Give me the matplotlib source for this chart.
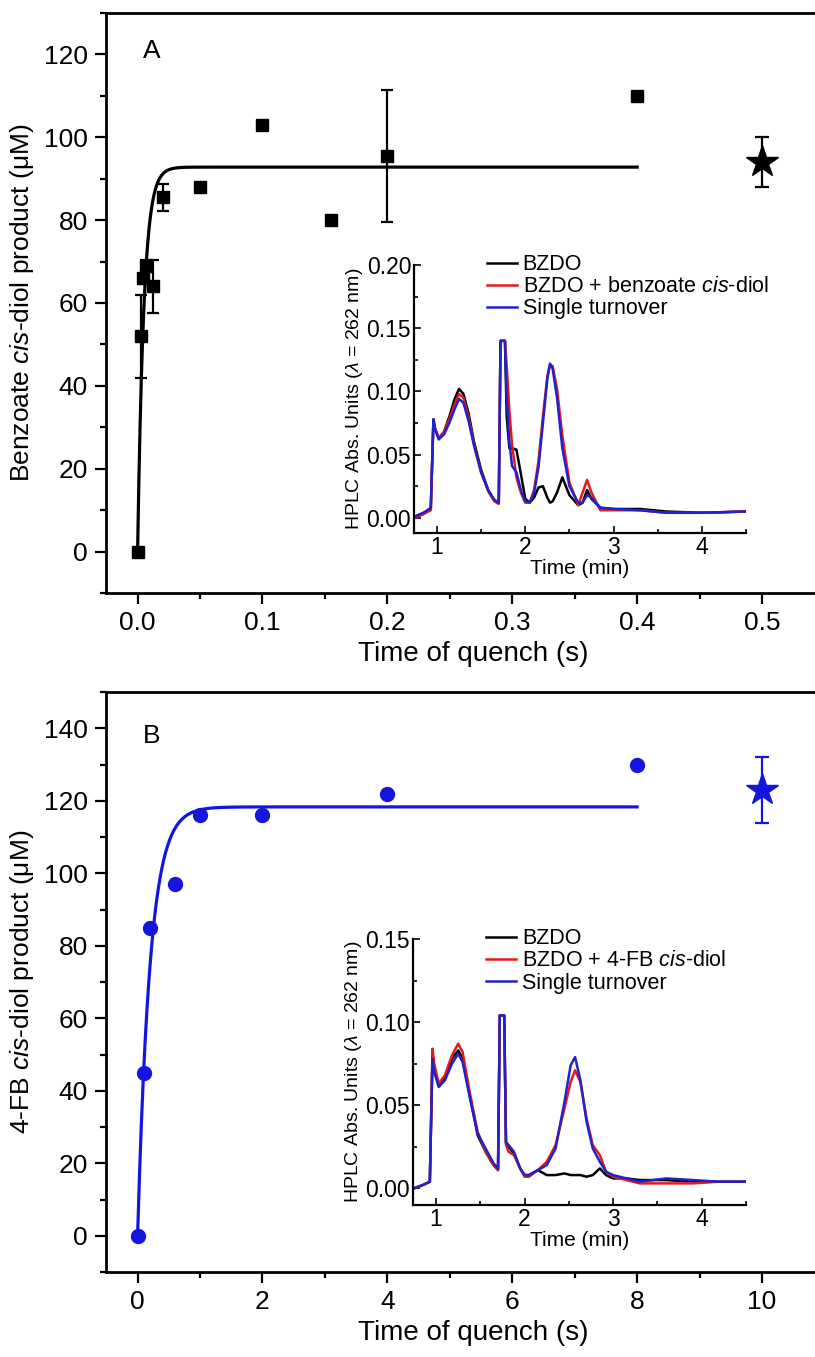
import matplotlib
matplotlib.use('Agg')
import matplotlib.pyplot as plt
import numpy as np
from matplotlib.ticker import MultipleLocator

plt.rcParams['font.family'] = ['Liberation Sans', 'DejaVu Sans']
plt.rcParams['mathtext.fontset'] = 'custom'
plt.rcParams['mathtext.rm'] = 'Liberation Sans'
plt.rcParams['mathtext.it'] = 'Liberation Sans:italic'

# ---- panel A: benzoate quench data ----
tA = [0.0, 0.0025, 0.004, 0.007, 0.012, 0.02, 0.05, 0.1, 0.155, 0.2, 0.4]
yA = [0, 52, 66, 69, 64, 85.5, 88, 103, 80, 95.5, 110]
errA = [0, 10, 0, 1.5, 6.5, 3.3, 0, 0, 0, 16, 0]
starA_t, starA_y, starA_err = 0.5, 94, 6
fitA_amp, fitA_k, fitA_end = 92.8, 200.0, 0.4

# ---- panel B: 4-FB quench data ----
tB = [0.0, 0.1, 0.2, 0.6, 1.0, 2.0, 4.0, 8.0]
yB = [0, 45, 85, 97, 116, 116, 122, 130]
starB_t, starB_y, starB_err = 10, 123, 9
fitB_amp, fitB_k, fitB_end = 118.3, 5.0, 8.0

# ---- inset A chromatograms ----
hplcA_t = [0.75, 0.85, 0.93, 0.96, 0.98, 1.02, 1.08, 1.14, 1.2, 1.25, 1.3, 1.36, 1.42, 1.5, 1.58,
           1.65, 1.70, 1.72, 1.74, 1.77, 1.79, 1.82, 1.85, 1.9, 1.95, 2.0, 2.05, 2.1, 2.15, 2.2,
           2.25, 2.28, 2.31, 2.36, 2.42, 2.5, 2.6, 2.65, 2.7, 2.75, 2.85, 3.0, 3.3, 3.6, 4.0, 4.5]
hplcA_bzdo = [0.001, 0.004, 0.007, 0.078, 0.070, 0.063, 0.068, 0.080, 0.094, 0.102, 0.098, 0.082,
              0.060, 0.038, 0.022, 0.014, 0.012, 0.140, 0.140, 0.140, 0.080, 0.055, 0.055, 0.054,
              0.035, 0.015, 0.012, 0.016, 0.024, 0.025, 0.016, 0.012, 0.013, 0.020, 0.032, 0.018,
              0.010, 0.012, 0.022, 0.015, 0.008, 0.007, 0.007, 0.005, 0.004, 0.005]
hplcA_diol = [0.000, 0.003, 0.006, 0.076, 0.070, 0.063, 0.068, 0.078, 0.090, 0.098, 0.095, 0.079,
              0.058, 0.036, 0.021, 0.013, 0.011, 0.140, 0.140, 0.140, 0.120, 0.085, 0.058, 0.032,
              0.020, 0.012, 0.012, 0.022, 0.045, 0.080, 0.112, 0.121, 0.120, 0.102, 0.065, 0.028,
              0.010, 0.020, 0.030, 0.020, 0.006, 0.006, 0.006, 0.004, 0.004, 0.005]
hplcA_single = [0.001, 0.004, 0.008, 0.078, 0.070, 0.062, 0.066, 0.075, 0.086, 0.094, 0.091, 0.076,
                0.057, 0.036, 0.022, 0.014, 0.012, 0.140, 0.140, 0.140, 0.095, 0.060, 0.041, 0.036,
                0.022, 0.013, 0.012, 0.020, 0.040, 0.075, 0.110, 0.122, 0.118, 0.095, 0.055, 0.025,
                0.012, 0.012, 0.018, 0.016, 0.008, 0.007, 0.006, 0.004, 0.004, 0.005]

# ---- inset B chromatograms ----
hplcB_t = [0.75, 0.85, 0.93, 0.96, 0.98, 1.03, 1.1, 1.18, 1.25, 1.3, 1.38, 1.47, 1.56, 1.65,
           1.70, 1.72, 1.74, 1.77, 1.79, 1.82, 1.88, 1.95, 2.0, 2.05, 2.15, 2.25, 2.35, 2.45,
           2.52, 2.57, 2.63, 2.7, 2.77, 2.85, 2.92, 3.0, 3.15, 3.3, 3.6, 3.9, 4.2, 4.5]
hplcB_bzdo = [0.000, 0.002, 0.004, 0.080, 0.072, 0.062, 0.067, 0.078, 0.083, 0.078, 0.056, 0.032,
              0.022, 0.014, 0.011, 0.104, 0.104, 0.104, 0.027, 0.025, 0.021, 0.012, 0.008, 0.008,
              0.011, 0.008, 0.008, 0.009, 0.008, 0.008, 0.008, 0.007, 0.008, 0.012, 0.008, 0.006,
              0.006, 0.005, 0.005, 0.004, 0.004, 0.004]
hplcB_diol = [0.000, 0.002, 0.004, 0.084, 0.075, 0.063, 0.068, 0.080, 0.087, 0.082, 0.058, 0.034,
              0.022, 0.014, 0.011, 0.104, 0.104, 0.104, 0.026, 0.022, 0.020, 0.012, 0.007, 0.007,
              0.011, 0.016, 0.026, 0.048, 0.064, 0.071, 0.064, 0.042, 0.026, 0.020, 0.010, 0.007,
              0.005, 0.003, 0.003, 0.003, 0.004, 0.004]
hplcB_single = [0.000, 0.002, 0.004, 0.078, 0.070, 0.061, 0.065, 0.075, 0.081, 0.076, 0.055, 0.033,
                0.024, 0.015, 0.012, 0.104, 0.104, 0.104, 0.028, 0.026, 0.022, 0.012, 0.008, 0.008,
                0.011, 0.014, 0.024, 0.052, 0.074, 0.079, 0.065, 0.040, 0.024, 0.016, 0.010, 0.008,
                0.006, 0.004, 0.006, 0.005, 0.004, 0.004]

labelsA = ['BZDO', r'BZDO + benzoate $\mathit{cis}$-diol', 'Single turnover']
labelsB = ['BZDO', r'BZDO + 4-FB $\mathit{cis}$-diol', 'Single turnover']
trace_colors = ['black', '#e31a1c', '#2222cc']
BLUE = '#1515e0'

W, H = 815, 1357
fig = plt.figure(figsize=(W / 100, H / 100), dpi=100)


def px_axes(left, top, right, bottom):
    return fig.add_axes([left / W, 1 - bottom / H, (right - left) / W, (bottom - top) / H])


def style_main(ax):
    for s in ['left', 'bottom', 'top', 'right']:
        ax.spines[s].set_linewidth(2.0)
    ax.tick_params(which='both', direction='out', width=1.6, labelsize=19, top=False, right=False)
    ax.tick_params(which='major', length=8, pad=5)
    ax.tick_params(which='minor', length=4.5)


def style_inset(ax, ytick):
    ax.spines['top'].set_visible(False)
    ax.spines['right'].set_visible(False)
    ax.spines['left'].set_linewidth(1.6)
    ax.spines['bottom'].set_linewidth(1.6)
    ax.set_facecolor('none')
    ax.set_xlim(0.74, 4.5)
    ax.xaxis.set_major_locator(MultipleLocator(1))
    ax.xaxis.set_minor_locator(MultipleLocator(0.5))
    ax.yaxis.set_major_locator(MultipleLocator(ytick))
    ax.yaxis.set_minor_locator(MultipleLocator(ytick / 2))
    ax.yaxis.set_major_formatter(lambda v, p: f'{v:.2f}')
    ax.tick_params(which='both', direction='in', width=1.2, labelsize=16.5, pad=2)
    ax.tick_params(which='major', length=5)
    ax.tick_params(which='minor', length=3)
    ax.set_xlabel('Time (min)', fontsize=15, labelpad=0)
    ax.set_ylabel(r'HPLC Abs. Units ($\mathit{\lambda}$ = 262 nm)', fontsize=14, labelpad=1)


def inset_legend(ax, handles, labels):
    ax.legend(handles, labels, loc='upper left', bbox_to_anchor=(0.22, 1.04), frameon=False,
              fontsize=15.5, handlelength=1.4, handletextpad=0.25, labelspacing=0.05,
              borderpad=0, borderaxespad=0)


# ================= panel A =================
axA = px_axes(106, 13, 840, 593)
style_main(axA)
axA.set_xlim(-0.0253, 0.5624)
axA.set_ylim(-10, 130)
axA.xaxis.set_major_locator(MultipleLocator(0.1))
axA.xaxis.set_minor_locator(MultipleLocator(0.05))
axA.yaxis.set_major_locator(MultipleLocator(20))
axA.yaxis.set_minor_locator(MultipleLocator(10))
axA.xaxis.set_major_formatter(lambda v, p: f'{v:.1f}')

t_fit = np.linspace(0, fitA_end, 800)
axA.plot(t_fit, fitA_amp * (1 - np.exp(-fitA_k * t_fit)), color='black', lw=2.3, zorder=2)
errA_arr = np.array(errA)
mask = errA_arr > 0
axA.errorbar(np.array(tA)[mask], np.array(yA)[mask], yerr=errA_arr[mask], fmt='none',
             ecolor='black', elinewidth=1.6, capsize=4, capthick=1.6, zorder=3)
axA.plot(tA, yA, 's', color='black', ms=9, zorder=4)
axA.errorbar([starA_t], [starA_y], yerr=[starA_err], fmt='*', color='black', ms=24,
             elinewidth=1.6, capsize=5, capthick=1.6, zorder=4)
axA.set_xlabel('Time of quench (s)', fontsize=20, labelpad=4)
axA.set_ylabel(r'Benzoate $\mathit{cis}$-diol product (μM)', fontsize=19, labelpad=6)
axA.text(0.05, 0.955, 'A', transform=axA.transAxes, fontsize=19, va='top', ha='left')

insA = px_axes(414, 265, 746, 533)
style_inset(insA, 0.05)
insA.set_ylim(-0.012, 0.2)
hA = []
for ys, c in zip([hplcA_bzdo, hplcA_diol, hplcA_single], trace_colors):
    line, = insA.plot(hplcA_t, ys, color=c, lw=1.8)
    hA.append(line)
inset_legend(insA, hA, labelsA)

# ================= panel B =================
axB = px_axes(106, 692, 840, 1272)
style_main(axB)
axB.set_xlim(-0.506, 11.25)
axB.set_ylim(-10, 150)
axB.xaxis.set_major_locator(MultipleLocator(2))
axB.xaxis.set_minor_locator(MultipleLocator(1))
axB.yaxis.set_major_locator(MultipleLocator(20))
axB.yaxis.set_minor_locator(MultipleLocator(10))

t_fit = np.linspace(0, fitB_end, 800)
axB.plot(t_fit, fitB_amp * (1 - np.exp(-fitB_k * t_fit)), color=BLUE, lw=2.3, zorder=2)
axB.plot(tB, yB, 'o', color=BLUE, ms=10, zorder=4)
axB.errorbar([starB_t], [starB_y], yerr=[starB_err], fmt='*', color=BLUE, ms=24,
             elinewidth=1.6, capsize=5, capthick=1.6, zorder=4)
axB.set_xlabel('Time of quench (s)', fontsize=20, labelpad=4)
axB.set_ylabel(r'4-FB $\mathit{cis}$-diol product (μM)', fontsize=19, labelpad=6)
axB.text(0.05, 0.945, 'B', transform=axB.transAxes, fontsize=19, va='top', ha='left')

insB = px_axes(413, 939, 746, 1205)
style_inset(insB, 0.05)
insB.set_ylim(-0.01, 0.15)
hB = []
for ys, c in zip([hplcB_bzdo, hplcB_diol, hplcB_single], trace_colors):
    line, = insB.plot(hplcB_t, ys, color=c, lw=1.8)
    hB.append(line)
inset_legend(insB, hB, labelsB)

fig.savefig('out.png', dpi=100)
